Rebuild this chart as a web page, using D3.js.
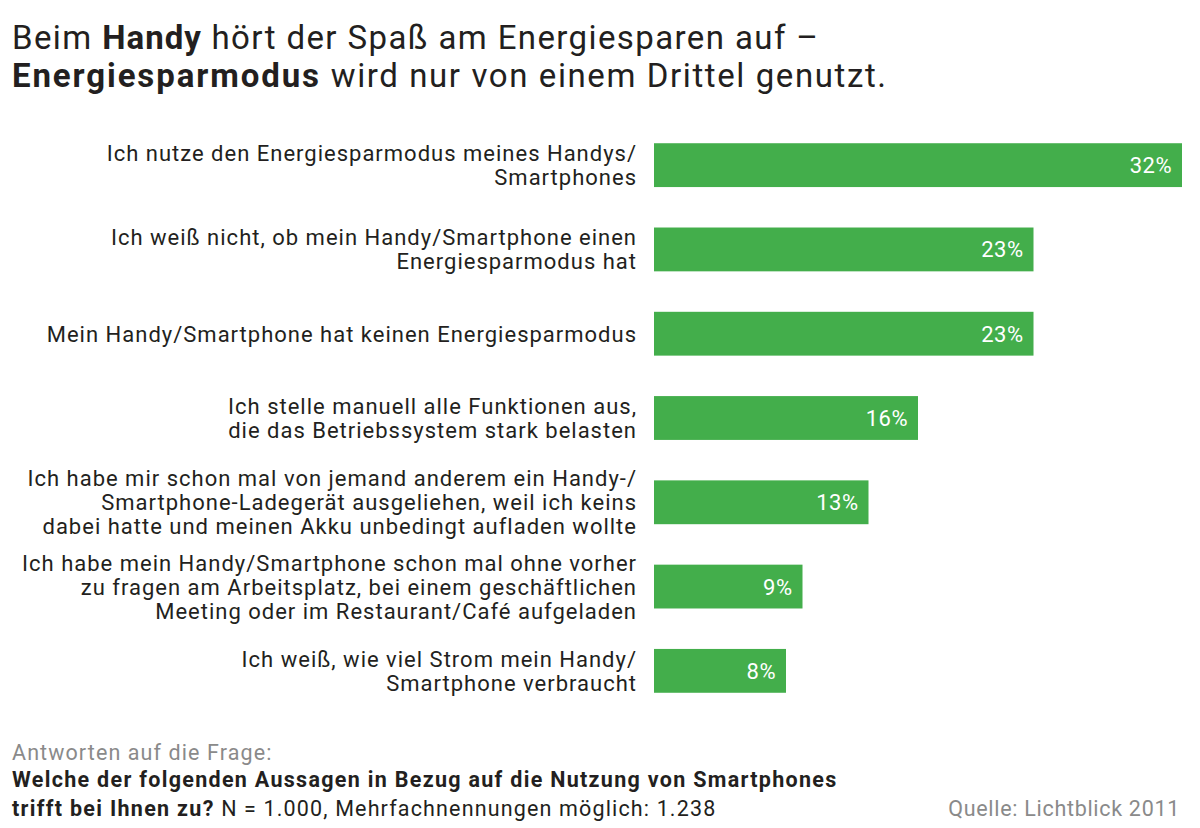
<!DOCTYPE html>
<html><head><meta charset="utf-8">
<script src="https://cdn.jsdelivr.net/npm/d3@7"></script>
<style>body{margin:0;background:#fff}svg{display:block}</style>
</head><body>
<svg id="c" width="1200" height="828"></svg>
<script>
const categories = [
  ["Ich nutze den Energiesparmodus meines Handys/", "Smartphones"],
  ["Ich weiß nicht, ob mein Handy/Smartphone einen", "Energiesparmodus hat"],
  ["Mein Handy/Smartphone hat keinen Energiesparmodus"],
  ["Ich stelle manuell alle Funktionen aus,", "die das Betriebssystem stark belasten"],
  ["Ich habe mir schon mal von jemand anderem ein Handy-/", "Smartphone-Ladegerät ausgeliehen, weil ich keins", "dabei hatte und meinen Akku unbedingt aufladen wollte"],
  ["Ich habe mein Handy/Smartphone schon mal ohne vorher", "zu fragen am Arbeitsplatz, bei einem geschäftlichen", "Meeting oder im Restaurant/Café aufgeladen"],
  ["Ich weiß, wie viel Strom mein Handy/", "Smartphone verbraucht"]
];
const values = [32, 23, 23, 16, 13, 9, 8];
const valueLabels = ["32%", "23%", "23%", "16%", "13%", "9%", "8%"];

const svg = d3.select("#c");
const font = "'Roboto', 'DejaVu Sans', sans-serif";
const ink = "#231f20";
const green = "#43ae4b";

// Title
const t = svg.append("text").attr("font-family", font).attr("font-size", 33)
  .attr("letter-spacing", 1.4).attr("fill", ink);
const l1 = t.append("tspan").attr("x", 12).attr("y", 49);
l1.append("tspan").text("Beim ");
l1.append("tspan").attr("font-weight", 700).attr("letter-spacing", 1.0).text("Handy");
l1.append("tspan").text(" hört der Spaß am Energiesparen auf –");
const l2 = t.append("tspan").attr("x", 12).attr("y", 87);
l2.append("tspan").attr("font-weight", 700).attr("letter-spacing", 1.9).text("Energiesparmodus");
l2.append("tspan").attr("letter-spacing", 1.6).text(" wird nur von einem Drittel genutzt.");

// Scales
const idx = d3.range(values.length);
const y = d3.scaleBand().domain(idx).range([123, 713]).paddingInner(0.48).paddingOuter(0.24);
const x = d3.scaleLinear().domain([0, 32]).range([654, 1182]);

const g = svg.append("g");
g.selectAll("rect.bar").data(idx).join("rect")
  .attr("class", "bar")
  .attr("x", x(0))
  .attr("y", i => y(i))
  .attr("width", i => x(values[i]) - x(0))
  .attr("height", y.bandwidth())
  .attr("fill", green);

g.selectAll("text.val").data(idx).join("text")
  .attr("class", "val")
  .attr("x", i => x(values[i]) - 10)
  .attr("y", i => y(i) + y.bandwidth() / 2 + 8)
  .attr("text-anchor", "end")
  .attr("font-family", font).attr("font-size", 22).attr("letter-spacing", 0.5)
  .attr("fill", "#fff")
  .text(i => valueLabels[i]);

// Category labels
const lh = 24;
g.selectAll("text.cat").data(idx).join("text")
  .attr("class", "cat")
  .attr("text-anchor", "end")
  .attr("font-family", font).attr("font-size", 22).attr("letter-spacing", 1)
  .attr("fill", ink)
  .each(function(i) {
    const lines = categories[i];
    const cy = y(i) + y.bandwidth() / 2;
    const y0 = cy - (lines.length - 1) * lh / 2 + 8;
    d3.select(this).selectAll("tspan").data(lines).join("tspan")
      .attr("x", 637)
      .attr("y", (d, k) => y0 + k * lh)
      .text(d => d);
  });

// Footer
svg.append("text").attr("x", 12).attr("y", 760)
  .attr("font-family", font).attr("font-size", 21.5).attr("letter-spacing", 1.1).attr("fill", "#8a8a8a")
  .text("Antworten auf die Frage:");
svg.append("text").attr("x", 12).attr("y", 787)
  .attr("font-family", font).attr("font-size", 21.5).attr("letter-spacing", 1.3).attr("font-weight", 700).attr("fill", ink)
  .text("Welche der folgenden Aussagen in Bezug auf die Nutzung von Smartphones");
const f3 = svg.append("text").attr("x", 12).attr("y", 816)
  .attr("font-family", font).attr("font-size", 21.5).attr("letter-spacing", 1.15).attr("fill", ink);
f3.append("tspan").attr("font-weight", 700).attr("letter-spacing", 1.3).text("trifft bei Ihnen zu?");
f3.append("tspan").text(" N = 1.000, Mehrfachnennungen möglich: 1.238");
svg.append("text").attr("x", 1180).attr("y", 816).attr("text-anchor", "end")
  .attr("font-family", font).attr("font-size", 21.5).attr("letter-spacing", 0.7).attr("fill", "#8a8a8a")
  .text("Quelle: Lichtblick 2011");
</script>
</body></html>
